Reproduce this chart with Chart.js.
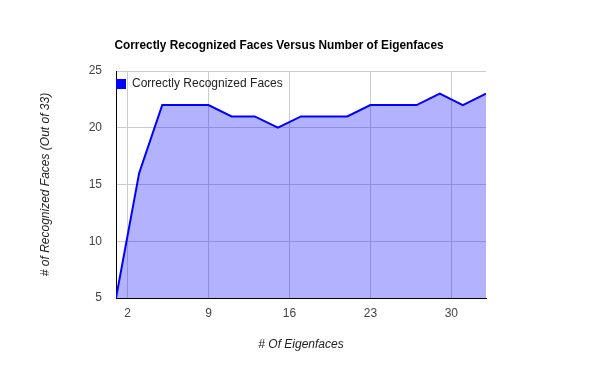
<!DOCTYPE html>
<html>
<head>
<meta charset="utf-8">
<script src="https://cdn.jsdelivr.net/npm/chart.js@4"></script>
<style>
  html, body { margin: 0; padding: 0; background: #fff; }
</style>
</head>
<body>
<canvas id="faces" width="600" height="371"></canvas>
<script>
const eigenfaces = [1, 3, 5, 7, 9, 11, 13, 15, 17, 19, 21, 23, 25, 27, 29, 31, 33];
const recognized = [5, 16, 22, 22, 22, 21, 21, 20, 21, 21, 21, 22, 22, 22, 23, 22, 23];
const xTicks = [2, 9, 16, 23, 30];
const yTicks = [5, 10, 15, 20, 25];
const chartTitle = 'Correctly Recognized Faces Versus Number of Eigenfaces';
const seriesName = 'Correctly Recognized Faces';

const FONT = "'Liberation Sans', Arial, sans-serif";

// title and in-plot legend, placed like the original
const extras = {
  id: 'extras',
  afterDraw(chart) {
    const ctx = chart.ctx;
    const area = chart.chartArea;
    ctx.save();
    ctx.fillStyle = '#000';
    ctx.font = 'bold 11.85px ' + FONT;
    ctx.textAlign = 'center';
    ctx.textBaseline = 'middle';
    ctx.fillText(chartTitle, 279, 46);

    const ds = chart.data.datasets[0];
    ctx.fillStyle = ds.borderColor;
    ctx.fillRect(area.left, area.top + 8, 10, 10);
    ctx.fillStyle = '#222';
    ctx.font = '12px ' + FONT;
    ctx.textAlign = 'left';
    ctx.fillText(ds.label, area.left + 16, area.top + 13);
    ctx.restore();
  }
};

new Chart(document.getElementById('faces').getContext('2d'), {
  type: 'line',
  data: {
    datasets: [{
      label: seriesName,
      data: eigenfaces.map((x, i) => ({ x: x, y: recognized[i] })),
      borderColor: '#0000ff',
      backgroundColor: 'rgba(0, 0, 255, 0.3)',
      borderWidth: 2,
      pointRadius: 0,
      tension: 0,
      fill: 'start'
    }]
  },
  options: {
    responsive: false,
    animation: false,
    layout: { padding: { top: 71, right: 114, bottom: 0, left: 0 } },
    plugins: {
      legend: { display: false },
      title: { display: false },
      tooltip: { enabled: false }
    },
    scales: {
      x: {
        type: 'linear',
        min: 1,
        max: 33,
        afterBuildTicks: s => { s.ticks = xTicks.map(v => ({ value: v })); },
        afterFit: s => { s.height = 73; },
        grid: { color: '#cccccc', drawTicks: false },
        border: { color: '#000' },
        ticks: { autoSkip: false, maxRotation: 0, padding: 8, color: '#444', font: { family: FONT, size: 12 } },
        title: {
          display: true,
          text: '# Of Eigenfaces',
          color: '#222',
          font: { family: FONT, size: 12, style: 'italic' },
          padding: { top: 0, bottom: 19 }
        }
      },
      y: {
        min: 5,
        max: 25,
        afterBuildTicks: s => { s.ticks = yTicks.map(v => ({ value: v })); },
        afterFit: s => { s.width = 116; },
        grid: { color: '#cccccc', drawTicks: false },
        border: { color: '#000' },
        ticks: { padding: 14, color: '#444', font: { family: FONT, size: 12 } },
        title: {
          display: true,
          text: '# of Recognized Faces (Out of 33)',
          color: '#222',
          font: { family: FONT, size: 12, style: 'italic' },
          padding: { top: 38, bottom: 0 }
        }
      }
    }
  },
  plugins: [extras]
});
</script>
</body>
</html>
